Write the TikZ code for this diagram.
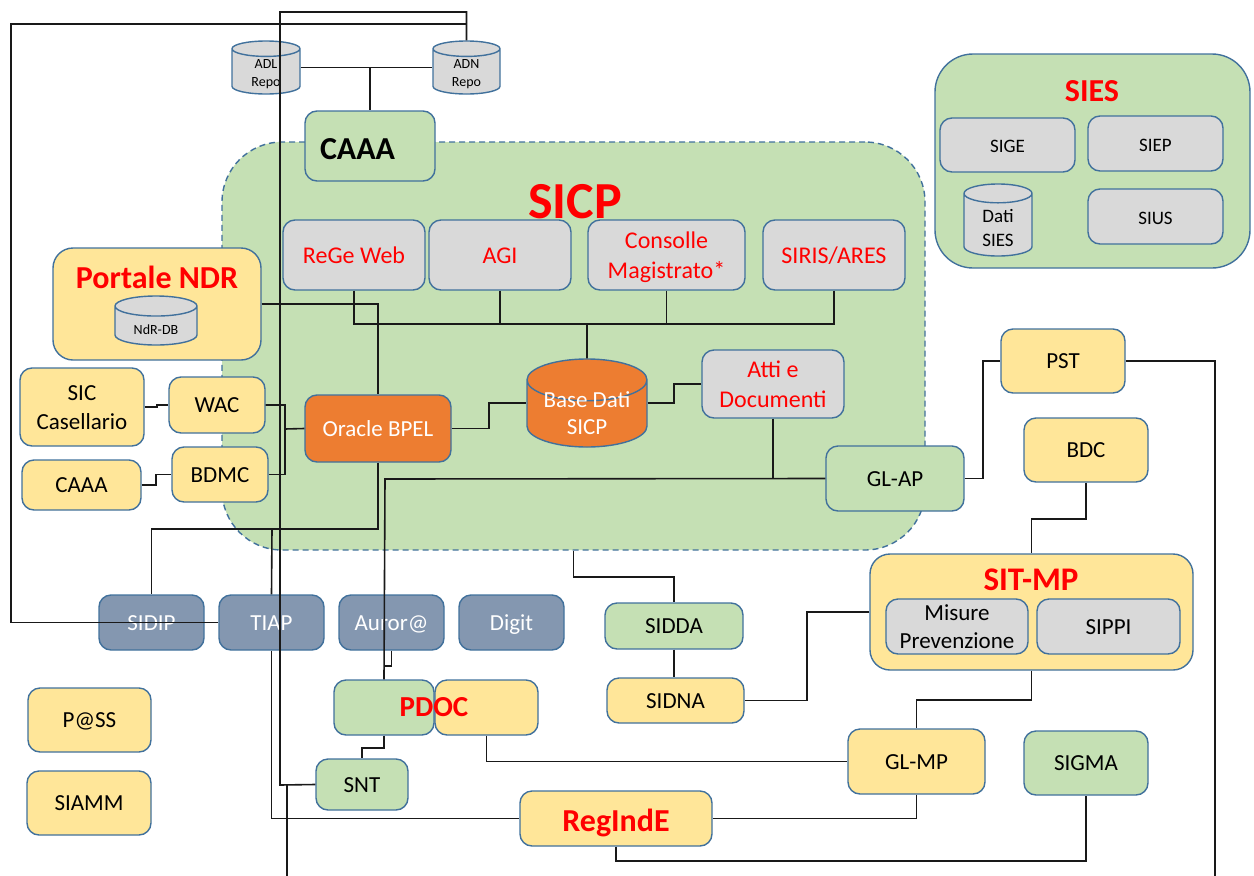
\documentclass[tikz,border=0pt]{standalone}
\usepackage{fontspec}
\setmainfont{Carlito}
\usetikzlibrary{shapes.geometric}
\definecolor{grn}{HTML}{C5E0B4}
\definecolor{yel}{HTML}{FFE699}
\definecolor{gry}{HTML}{D9D9D9}
\definecolor{org}{HTML}{ED7D31}
\definecolor{slate}{HTML}{8497B0}
\definecolor{edge}{HTML}{41719C}
\definecolor{redt}{HTML}{FF0000}
\newcommand{\fs}[2]{\fontsize{#1}{#2}\selectfont}
\newcommand{\cyltxt}[2]{\raisebox{#1pt}[0pt][0pt]{\begin{tabular}{@{}c@{}}#2\end{tabular}}}
\newcommand{\tx}[1]{\raisebox{-.37em}[0pt][0pt]{\begin{tabular}{@{}c@{}}#1\end{tabular}}}
\tikzset{
  base/.style={draw=edge,line width=1.4pt,inner sep=0pt,align=center,font=\fs{23}{28.5}},
  box/.style={base,rounded corners=12pt},
  sz/.style 2 args={minimum width=#1 pt,minimum height=#2 pt},
  ygbox/.style={box,fill=yel},
  gnbox/.style={box,fill=grn},
  gybox/.style={box,fill=gry},
  slbox/.style={box,fill=slate,text=white},
  redtxt/.style={text=redt,font=\fs{24}{29.5}},
  title/.style={text=redt,font=\bfseries\fs{#1}{#1}},
  cyl/.style={draw=edge,line width=1.4pt,inner sep=0pt,cylinder,shape border rotate=90,anchor=shape center,cylinder uses custom fill,cylinder body fill=#1,cylinder end fill=#1},
  conn/.style={draw=black!90,line width=1.6pt},
}
\begin{document}
\begin{tikzpicture}[x=1pt,y=-1pt]
\useasboundingbox (0,0) rectangle (1254,876);
% areas
\node[draw=edge,line width=1.4pt,inner sep=0pt,rounded corners=60pt,fill=grn,dash pattern=on 6pt off 4pt,sz={703}{408}] (sicp) at (573.5,346) {};
\node[draw=edge,line width=1.4pt,inner sep=0pt,rounded corners=38pt,fill=grn,sz={315}{214}] (sies) at (1092.5,161) {};
% SIES content
\node[title=32] (siest) at (1092,91) {SIES};
\node[gybox,sz={135}{54},font=\fs{19}{24}] (sige) at (1007.5,145) {\tx{SIGE}};
\node[gybox,sz={135}{55},font=\fs{19}{24}] (siep) at (1155.5,143.5) {\tx{SIEP}};
\node[gybox,sz={135}{55},font=\fs{19}{24}] (sius) at (1155.5,216.5) {\tx{SIUS}};
\node[cyl=gry,minimum width=68pt,minimum height=72pt,aspect=0.6,font=\fs{19}{24}] (datisies) at (998,220) {\cyltxt{-9}{Dati\\SIES}};
% repos
\node[cyl=gry,minimum width=68pt,minimum height=53pt,aspect=0.53,font=\fs{14}{18}] (adl) at (266,67.5) {\cyltxt{-6}{ADL\\Repo}};
\node[cyl=gry,minimum width=67pt,minimum height=53pt,aspect=0.53,font=\fs{14}{18}] (adn) at (466.5,67.5) {\cyltxt{-6}{ADN\\Repo}};
\node[gnbox,sz={130}{70},text width=100pt,align=left,font=\bfseries\fs{32}{38}] (caaatop) at (370,146) {\tx{CAAA}};
% SICP content
\node[title=52] (sicpt) at (575,202) {SICP};
\node[gybox,sz={142}{70},redtxt] (rege) at (354,255) {\tx{ReGe Web}};
\node[gybox,sz={142}{70},redtxt] (agi) at (500,255) {\tx{AGI}};
\node[gybox,sz={157}{70},redtxt] (consolle) at (666.5,255) {\tx{Consolle\\Magistrato*}};
\node[gybox,sz={142}{70},redtxt] (siris) at (834,255) {\tx{SIRIS/ARES}};
\node[box,fill=org,text=white,sz={146}{67}] (oracle) at (378,428.5) {\tx{Oracle BPEL}};
\node[cyl=org,text=white,minimum width=120pt,minimum height=88pt,aspect=0.48,font=\fs{23}{27}] (basedati) at (587,403) {\cyltxt{-8}{Base Dati\\SICP}};
\node[gybox,sz={142}{68},redtxt] (atti) at (773,384) {\tx{Atti e\\Documenti}};
\node[gnbox,sz={138}{65}] (glap) at (895,478.5) {\tx{GL-AP}};
% Portale
\node[ygbox,rounded corners=20pt,sz={208}{112}] (portale) at (157,304) {};
\node[title=32] (portalet) at (157,277.5) {Portale NDR};
\node[cyl=gry,minimum width=82pt,minimum height=49pt,aspect=0.45,font=\fs{14}{18}] (ndrdb) at (156,320.5) {\cyltxt{-9}{NdR-DB}};
% left column
\node[ygbox,sz={124}{78}] (sic) at (82,407) {\tx{SIC\\Casellario}};
\node[ygbox,sz={96}{56}] (wac) at (217,405) {\tx{WAC}};
\node[ygbox,sz={119}{50}] (caaab) at (81.5,485) {\tx{CAAA}};
\node[ygbox,sz={96}{55}] (bdmc) at (220,474.5) {\tx{BDMC}};
% right
\node[ygbox,sz={124}{64}] (pst) at (1063,361) {\tx{PST}};
\node[ygbox,sz={124}{64}] (bdc) at (1086,450) {\tx{BDC}};
\node[ygbox,rounded corners=20pt,sz={323}{116}] (sitmp) at (1031.5,612) {};
\node[title=33] (sitmpt) at (1031,580) {SIT-MP};
\node[gybox,sz={142}{55}] (misure) at (957,626.5) {\tx{Misure\\Prevenzione}};
\node[gybox,sz={143}{55}] (sippi) at (1108.5,626.5) {\tx{SIPPI}};
% slate row
\node[slbox,sz={105}{55}] (sidip) at (151.5,622.5) {\tx{SIDIP}};
\node[slbox,sz={105}{55}] (tiap) at (271.5,622.5) {\tx{TIAP}};
\node[slbox,sz={105}{55}] (auror) at (391.5,622.5) {\tx{Auror@}};
\node[slbox,sz={105}{55}] (digit) at (511.5,622.5) {\tx{Digit}};
% bottom
\node[gnbox,sz={138}{46}] (sidda) at (674,626) {\tx{SIDDA}};
\node[ygbox,sz={137}{45}] (sidna) at (675.5,700.5) {\tx{SIDNA}};
\node[gnbox,sz={100}{55}] (pdocg) at (384,707.5) {};
\node[ygbox,sz={103}{55}] (pdocy) at (486.5,707.5) {};
\node[title=29] (pdoct) at (434,707) {PDOC};
\node[gnbox,sz={92}{51}] (snt) at (362,784.5) {\tx{SNT}};
\node[ygbox,sz={123}{64}] (pass) at (89.5,720) {\tx{P@SS}};
\node[ygbox,sz={124}{64}] (siamm) at (89,803) {\tx{SIAMM}};
\node[ygbox,sz={137}{65}] (glmp) at (916.5,761.5) {\tx{GL-MP}};
\node[gnbox,sz={124}{64}] (sigma) at (1086,763) {\tx{SIGMA}};
\node[ygbox,sz={192}{55},text=redt,font=\bfseries\fs{32}{38}] (reginde) at (616,818.5) {\tx{RegIndE}};
% free ends and bends
\coordinate (b1) at (287,876);
\coordinate (b2) at (1215,876);
\coordinate (a1) at (11,24);
\coordinate (a2) at (280,12);
\coordinate (c1) at (280,785);
\coordinate (j1) at (272,529);
\coordinate (j2) at (385,479);
\coordinate (j3) at (587,324);
\coordinate (j4) at (370,67.5);
\coordinate (j5) at (285,429);
\coordinate (j6) at (287,785);
\coordinate (z1) at (489,416);
\coordinate (z2) at (674,394);
\coordinate (z3) at (983,420);
\coordinate (z4) at (807,650);
\coordinate (z5) at (157,406);
\coordinate (z6) at (156,480);
\coordinate (j7) at (384.5,666);
% connectors
\draw[conn] (tiap.west) -| (a1) -| (adn.north);
\draw[conn] (adn.north) |- (a2) -- (c1) -- (snt.west);
\draw[conn] (j6) -- (b1);
\draw[conn] (adl.east |- adl.shape center) -- (adn.west |- adn.shape center);
\draw[conn] (j4) -- (caaatop.north);
\draw[conn] (oracle.south) |- (j1) -| (sidip.north);
\draw[conn] (j1) -- (tiap.north);
\draw[conn] (tiap.south) |- (reginde.west);
\draw[conn] (glap.west) -- (j2) -- (pdocg.north);
\draw[conn] (auror.south) |- (j7);
\draw[conn] (pdocg.south) -- ++(0,12) -| (snt.north);
\draw[conn] (pdocy.south) |- (glmp.west);
\draw[conn] (portale.east) -| (oracle.north);
\draw[conn] (rege.south) |- (j3);
\draw[conn] (agi.south) |- (j3);
\draw[conn] (consolle.south) |- (j3);
\draw[conn] (siris.south) |- (j3);
\draw[conn] (j3) -- (basedati.north);
\draw[conn] (oracle.east) -| (z1) |- (basedati.west |- basedati.shape center);
\draw[conn] (basedati.east |- basedati.shape center) -| (z2) |- (atti.west);
\draw[conn] (atti.south) |- (glap.west);
\draw[conn] (glap.east) -| (z3) |- (pst.west);
\draw[conn] (pst.east) -| (b2);
\draw[conn] (bdc.south) -- ++(0,36) -| (sitmp.north);
\draw[conn] (sitmp.west) -| (z4) |- (sidna.east);
\draw[conn] (sidda.south) -- (sidna.north -| sidda.south);
\draw[conn] (sicp.south) -- ++(0,26) -| (sidda.north);
\draw[conn] (sitmp.south) -- ++(0,29) -| (glmp.north);
\draw[conn] (glmp.south) |- (reginde.east);
\draw[conn] (reginde.south) -- ++(0,14) -| (sigma.south);
\draw[conn] (sic.east) -| (z5) |- (wac.west);
\draw[conn] (caaab.east) -| (z6) |- (bdmc.west);
\draw[conn] (wac.east) -| (j5) -- (oracle.west);
\draw[conn] (bdmc.east) -| (j5);
\end{tikzpicture}
\end{document}
